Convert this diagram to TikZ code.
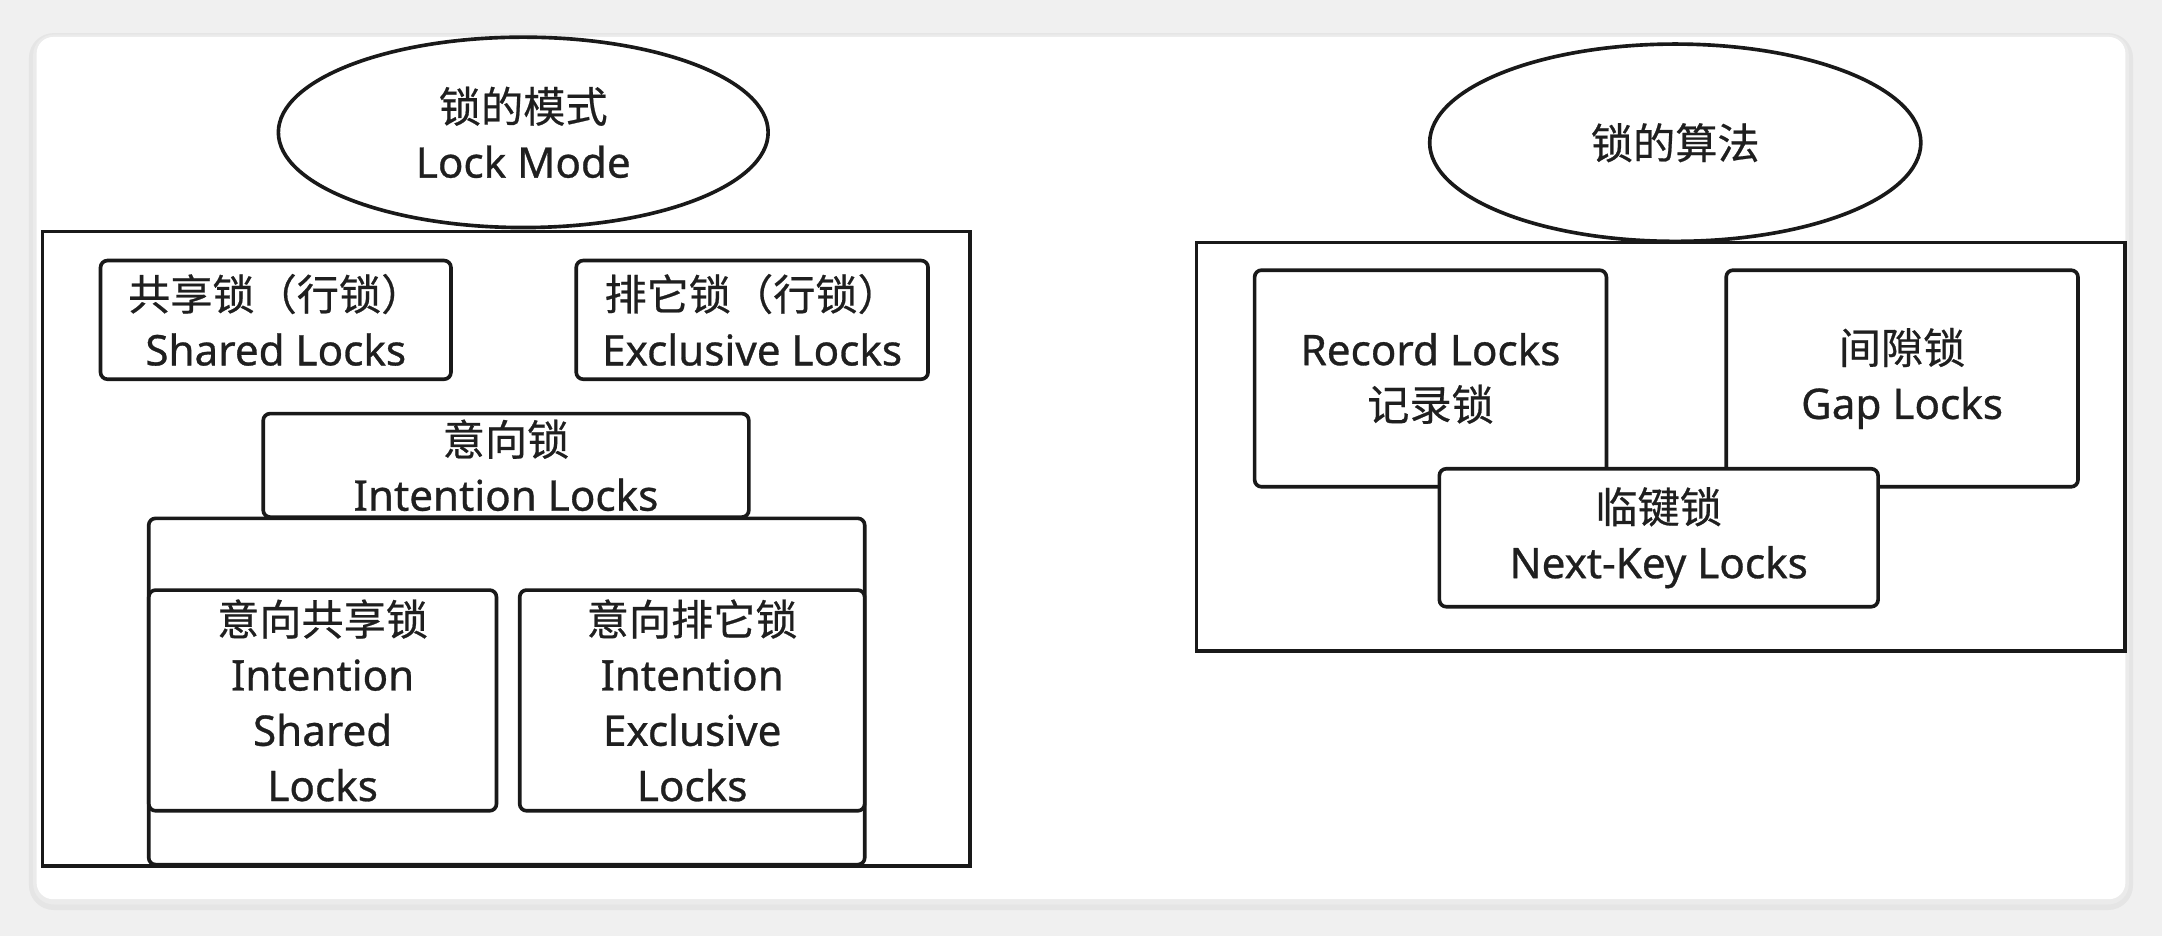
\documentclass[tikz,border=0pt]{standalone}
\usepackage{fontspec}
\setmainfont{Noto Sans}[UprightFeatures={FakeBold=0.7}]
\newfontfamily\cjk{Noto Sans CJK SC}[UprightFeatures={FakeBold=0.5}]
\usetikzlibrary{shapes.geometric}
\begin{document}
\begin{tikzpicture}[x=0.01cm,y=-0.01cm,
  txt/.style={font=\fontsize{8.7}{11.4}\selectfont, align=center, text=black!88},
  frame/.style={draw=black!90, line width=0.8pt, fill=white, inner sep=0pt},
  lockbox/.style={txt, draw=black!90, line width=0.75pt, rounded corners=0.5mm, fill=white, inner sep=0pt},
  oval/.style={txt, ellipse, draw=black!90, line width=0.75pt, fill=white, inner sep=0pt}]
% background and card
\fill[black!6] (0,0) rectangle (1568,679);
\fill[black!10, rounded corners=1.8mm] (21,24) rectangle (1547,660);
\fill[black!8, rounded corners=1.5mm] (24,25) rectangle (1544,656);
\node[fill=white, rounded corners=1.2mm, minimum width=15.14cm, minimum height=6.25cm, inner sep=0pt] (card) at (784,339.5) {};
% left group
\node[frame, minimum width=6.72cm, minimum height=4.60cm] (lframe) at (367,398) {};
\node[oval, minimum width=3.55cm, minimum height=1.38cm] (lmode) at (379.5,96) {{\cjk 锁的模式}\\Lock Mode};
\node[lockbox, minimum width=2.54cm, minimum height=0.86cm] (shared) at (200,232) {{\cjk 共享锁（行锁）}\\Shared Locks};
\node[lockbox, minimum width=2.55cm, minimum height=0.86cm] (excl) at (545.5,232) {{\cjk 排它锁（行锁）}\\Exclusive Locks};
\node[lockbox, minimum width=3.52cm, minimum height=0.75cm] (intent) at (367,337.5) {{\cjk 意向锁}\\Intention Locks};
\node[lockbox, minimum width=5.19cm, minimum height=2.51cm] (cont) at (367.5,501.5) {};
\node[lockbox, minimum width=2.52cm, minimum height=1.60cm] (is) at (234,508) {{\cjk 意向共享锁}\\Intention\\Shared\\Locks};
\node[lockbox, minimum width=2.50cm, minimum height=1.60cm] (ix) at (502,508) {{\cjk 意向排它锁}\\Intention\\Exclusive\\Locks};
% right group
\node[frame, minimum width=6.73cm, minimum height=2.96cm] (rframe) at (1204.5,324) {};
\node[oval, minimum width=3.56cm, minimum height=1.43cm] (ralgo) at (1215,103.5) {{\cjk 锁的算法}};
\node[lockbox, minimum width=2.55cm, minimum height=1.57cm] (record) at (1037.5,274.5) {Record Locks\\{\cjk 记录锁}};
\node[lockbox, minimum width=2.55cm, minimum height=1.57cm] (gap) at (1379.5,274.5) {{\cjk 间隙锁}\\Gap Locks};
\node[lockbox, minimum width=3.18cm, minimum height=1.00cm] (nextkey) at (1203,390) {{\cjk 临键锁}\\Next-Key Locks};
\end{tikzpicture}
\end{document}
